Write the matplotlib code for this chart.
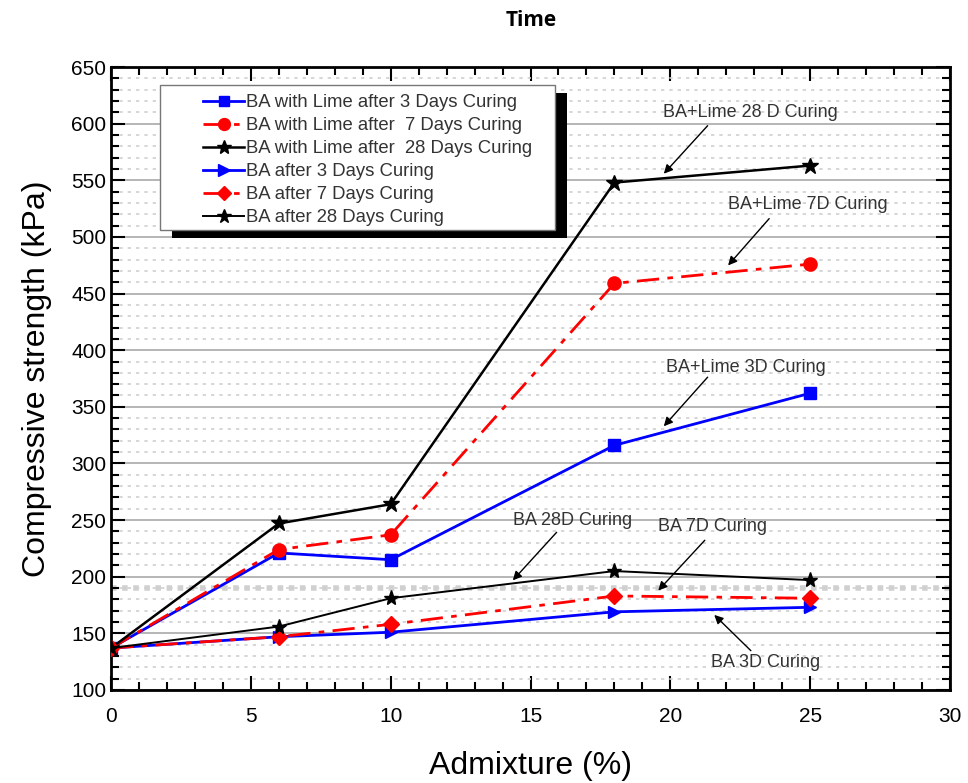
import matplotlib.pyplot as plt
import matplotlib.patches as mpatches
from matplotlib.ticker import MultipleLocator

plt.rcParams['font.family'] = ['Liberation Sans', 'DejaVu Sans']

# admixture content (%)
admixture = [0, 6, 10, 18, 25]

# compressive strength (kPa)
lime_3d = [137, 221, 215, 316, 362]
lime_7d = [137, 224, 237, 459, 476]
lime_28d = [137, 247, 264, 548, 563]
ba_3d = [137, 147, 151, 169, 173]
ba_7d = [137, 147, 158, 183, 181]
ba_28d = [137, 156, 181, 205, 197]

labels = ['BA with Lime after 3 Days Curing',
          'BA with Lime after  7 Days Curing',
          'BA with Lime after  28 Days Curing',
          'BA after 3 Days Curing',
          'BA after 7 Days Curing',
          'BA after 28 Days Curing']

dashdot = (0, (8, 3, 2, 3))

fig = plt.figure(figsize=(9.68, 7.83), dpi=100)
ax = fig.add_axes([0.1147, 0.1188, 0.8667, 0.7956])

ax.plot(admixture, lime_3d, color='blue', lw=2, marker='s', ms=8, label=labels[0], zorder=3)
ax.plot(admixture, lime_7d, color='red', lw=2, ls=dashdot, marker='o', ms=9.5, label=labels[1], zorder=3)
ax.plot(admixture, lime_28d, color='black', lw=1.8, marker='*', ms=12, label=labels[2], zorder=3)
ax.plot(admixture, ba_3d, color='blue', lw=2, marker='>', ms=9, label=labels[3], zorder=3)
ax.plot(admixture, ba_7d, color='red', lw=2, ls=dashdot, marker='D', ms=8, label=labels[4], zorder=3)
ax.plot(admixture, ba_28d, color='black', lw=1.4, marker='*', ms=11, label=labels[5], zorder=3)

ax.set_xlim(0, 30)
ax.set_ylim(100, 650)
ax.xaxis.set_major_locator(MultipleLocator(5))
ax.xaxis.set_minor_locator(MultipleLocator(1))
ax.yaxis.set_major_locator(MultipleLocator(50))
ax.yaxis.set_minor_locator(MultipleLocator(10))
ax.tick_params(which='both', direction='in', top=True, right=True, width=1.5, labelsize=15)
ax.tick_params(which='major', length=10)
ax.tick_params(which='minor', length=6)
ax.tick_params(axis='x', pad=12)
for s in ax.spines.values():
    s.set_linewidth(2)

# grid: solid major, dotted minor (horizontal only)
ax.yaxis.grid(True, which='major', color='#b0b0b0', lw=1.3, ls='-')
ax.yaxis.grid(True, which='minor', color='#d0d0d0', lw=1.2, ls=(0, (2, 3)))
ax.axhline(190, color='#d0d0d0', lw=4, ls=(0, (1, 1)), zorder=0.5)
ax.set_axisbelow(True)

ax.set_xlabel('Admixture (%)', fontsize=23, labelpad=18)
ax.set_ylabel('Compressive strength (kPa)', fontsize=23, labelpad=14)

fig.text(0.549, 0.974, 'Time', fontsize=15, fontweight='bold', family='Open Sans',
         ha='center', va='center')

# annotations
arrow = dict(arrowstyle='-|>', color='black', lw=1.0, mutation_scale=13)
notes = [
    ('BA+Lime 28 D Curing', (22.85, 610), (21.4, 600), (19.7, 554)),
    ('BA+Lime 7D Curing', (24.9, 529), (23.6, 518), (22.0, 473)),
    ('BA+Lime 3D Curing', (22.7, 385), (21.4, 378), (19.7, 331)),
    ('BA 28D Curing', (16.5, 250), (16.0, 241), (14.3, 195)),
    ('BA 7D Curing', (21.5, 244), (21.3, 234), (19.5, 186)),
    ('BA 3D Curing', (23.4, 124), (22.95, 133), (21.5, 168)),
]
for txt, tpos, start, tip in notes:
    ax.text(tpos[0], tpos[1], txt, fontsize=13, color='#333333', ha='center', va='center')
    ax.annotate('', xy=tip, xytext=start, arrowprops=arrow)

# legend entries without frame; frame and shadow drawn by hand
leg = ax.legend(loc='upper left', bbox_to_anchor=(0.110, 0.956), fontsize=13.3,
                frameon=False, handlelength=2.2, handletextpad=0.1, labelspacing=0.32,
                borderpad=0, borderaxespad=0, markerscale=0.9)
leg.set_zorder(7)
for t in leg.get_texts():
    t.set_color('#333333')

fx0, fx1, fy0, fy1 = 0.0584, 0.529, 0.738, 0.971
dx, dy = 12 / (0.8667 * 968), -8 / (0.7956 * 783)
ax.add_patch(mpatches.Rectangle((fx0 + dx, fy0 + dy), fx1 - fx0, fy1 - fy0, transform=ax.transAxes,
                                facecolor='black', edgecolor='none', zorder=5.8))
ax.add_patch(mpatches.Rectangle((fx0, fy0), fx1 - fx0, fy1 - fy0, transform=ax.transAxes,
                                facecolor='white', edgecolor='#777777', lw=1.0, zorder=5.9))

fig.savefig('out.png', dpi=100)
